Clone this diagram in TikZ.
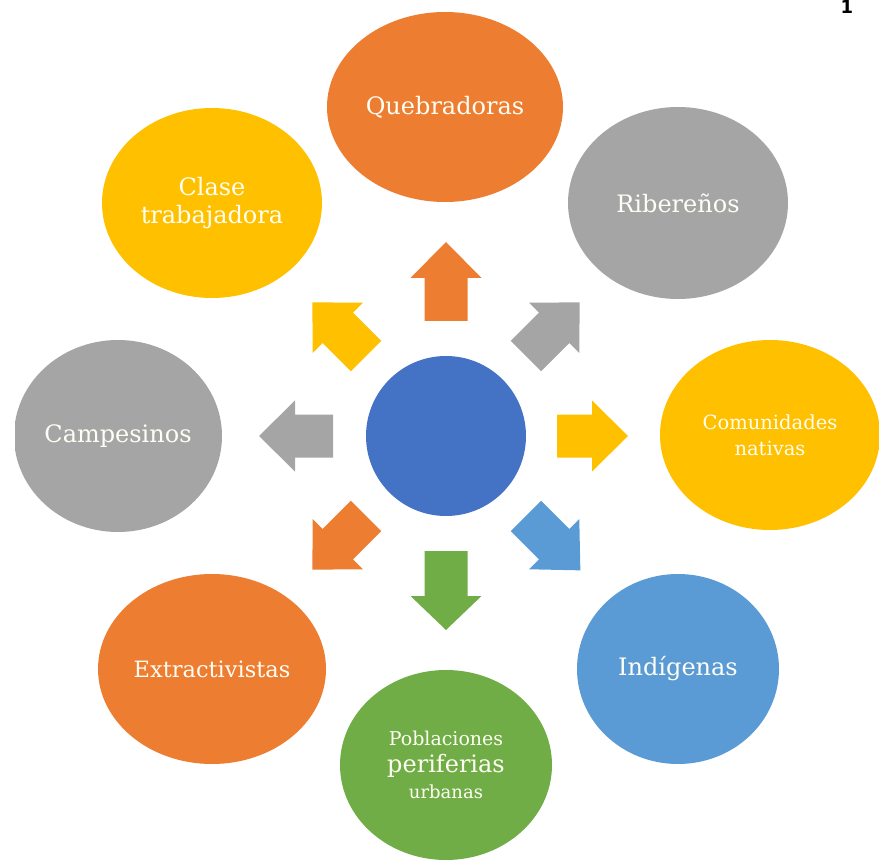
\documentclass[tikz,border=0pt]{standalone}
\usepackage{fontspec}
\setmainfont{DejaVu Serif}
\newfontfamily\numfont{DejaVu Sans}
\usetikzlibrary{shapes.geometric,calc}
\definecolor{cOrange}{HTML}{ED7D31}
\definecolor{cGray}{HTML}{A5A5A5}
\definecolor{cYellow}{HTML}{FFC000}
\definecolor{cBlue}{HTML}{5B9BD5}
\definecolor{cGreen}{HTML}{70AD47}
\definecolor{cHub}{HTML}{4472C4}
\colorlet{cText}{white!96!yellow}
\begin{document}
\begin{tikzpicture}[x=1pt,y=-1pt,
  bubble/.style={ellipse, inner sep=-8pt, text=cText, align=center,
    font=\fontsize{24}{28}\selectfont},
  hubstyle/.style={circle, fill=cHub, minimum size=160pt, inner sep=0pt}]
\useasboundingbox (0,0) rectangle (879,861);
\clip (0,0) rectangle (879,861);

% outer bubbles
\node[bubble, fill=cOrange, minimum width=236pt, minimum height=190pt] (queb) at (445,107) {Quebradoras};
\node[bubble, fill=cGray, minimum width=220pt, minimum height=192pt] (ribe) at (678,203) {Ribereños};
\node[bubble, fill=cYellow, minimum width=220pt, minimum height=190pt,
  font=\fontsize{19.5}{26}\selectfont] (comu) at (770,435) {Comunidades\\nativas};
\node[bubble, fill=cBlue, minimum width=202pt, minimum height=190pt] (indi) at (678,669) {Indígenas};
\node[bubble, fill=cGreen, minimum width=212pt, minimum height=190pt] (pobl) at (446,765)
  {{\fontsize{19}{24}\selectfont Poblaciones}\\[-1pt]periferias\\[-2pt]{\fontsize{18}{24}\selectfont urbanas}};
\node[bubble, fill=cOrange, minimum width=228pt, minimum height=190pt,
  font=\fontsize{22.5}{28}\selectfont] (extr) at (212,669) {Extractivistas};
\begin{scope}
  \clip (15,0) rectangle (879,861);
  \node[bubble, fill=cGray, minimum width=208pt, minimum height=192pt] (camp) at (118,436) {Campesinos};
\end{scope}
\node[bubble, fill=cYellow, minimum width=220pt, minimum height=190pt] (clas) at (212,203) {Clase\\trabajadora};

% hub
\node[hubstyle] (hub) at (446,436) {};

% block arrows: angle / shaft start / head base / tip / colour
\foreach \a/\s/\h/\t/\c in {-90/115/158/194/cOrange, -45/113/153/189/cGray,
    0/111/146/182/cYellow, 45/113/153/190/cBlue, 90/115/160/194/cGreen,
    135/113/153/189/cOrange, 180/113/151/187/cGray, 225/113/153/189/cYellow}{
  \fill[\c] ($(hub)+(\a:\s)+(\a+90:21.5)$) -- ($(hub)+(\a:\h)+(\a+90:21.5)$)
    -- ($(hub)+(\a:\h)+(\a+90:35.5)$) -- ($(hub)+(\a:\t)$)
    -- ($(hub)+(\a:\h)+(\a-90:35.5)$) -- ($(hub)+(\a:\h)+(\a-90:21.5)$)
    -- ($(hub)+(\a:\s)+(\a-90:21.5)$) -- cycle;
}

% page number
\node[font=\numfont\bfseries\fontsize{18}{18}\selectfont, anchor=base, inner sep=0pt] (pgnum) at (847,13.5) {1};
\end{tikzpicture}
\end{document}
